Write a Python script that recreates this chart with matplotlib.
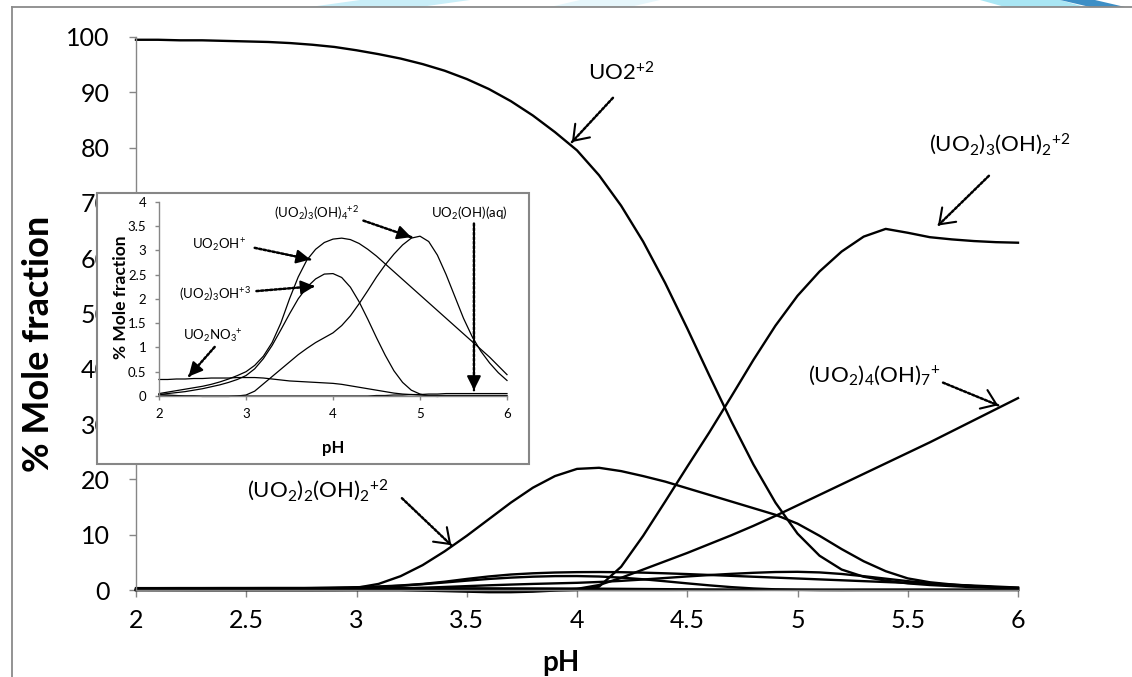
# ## ------- ## #
# ## Imports ## #
# ## ------- ## #

import matplotlib
matplotlib.use("Agg")
import matplotlib.pyplot as plt
from matplotlib.patches import Rectangle, Polygon
from matplotlib.lines import Line2D

plt.rcParams["font.family"] = ["Lato", "DejaVu Sans"]
plt.rcParams["mathtext.fontset"] = "custom"
plt.rcParams["mathtext.rm"] = "Lato"
plt.rcParams["mathtext.it"] = "Lato:italic"
plt.rcParams["mathtext.bf"] = "Lato:bold"
plt.rcParams["mathtext.default"] = "regular"

# ## ---- ## #
# ## Data ## #
# ## ---- ## #

ph = [2.0, 2.1, 2.2, 2.3, 2.4, 2.5, 2.6, 2.7, 2.8, 2.9,
      3.0, 3.1, 3.2, 3.3, 3.4, 3.5, 3.6, 3.7, 3.8, 3.9,
      4.0, 4.1, 4.2, 4.3, 4.4, 4.5, 4.6, 4.7, 4.8, 4.9,
      5.0, 5.1, 5.2, 5.3, 5.4, 5.5, 5.6, 5.7, 5.8, 5.9, 6.0]

# major species (% mole fraction)
uo2 = [99.5, 99.5, 99.4, 99.4, 99.3, 99.2, 99.1, 98.9, 98.6, 98.2,
       97.6, 96.9, 96.1, 95.1, 93.9, 92.4, 90.6, 88.4, 85.8, 82.8,
       79.5, 75.0, 69.5, 63.0, 55.5, 47.3, 38.8, 30.5, 22.7, 15.8,
       10.2, 6.2, 3.7, 2.4, 1.7, 1.2, 0.9, 0.7, 0.5, 0.4, 0.3]
uo2_3_oh2 = [0.0, 0.0, 0.0, 0.0, 0.0, 0.0, 0.0, 0.0, 0.0, 0.0,
             0.0, 0.0, 0.0, -0.1, -0.2, -0.3, -0.4, -0.4, -0.3, -0.1,
             0.0, 0.6, 4.2, 9.8, 16.0, 22.3, 28.5, 35.0, 41.6, 47.8,
             53.2, 57.6, 61.2, 63.9, 65.3, 64.6, 63.8, 63.4, 63.1, 62.9, 62.8]
uo2_2_oh2 = [0.1, 0.1, 0.1, 0.1, 0.1, 0.1, 0.1, 0.1, 0.1, 0.2,
             0.4, 1.1, 2.5, 4.5, 7.0, 9.8, 12.8, 15.8, 18.5, 20.6,
             21.9, 22.1, 21.5, 20.6, 19.6, 18.4, 17.2, 16.0, 14.8, 13.6,
             12.0, 9.8, 7.4, 5.2, 3.4, 2.1, 1.4, 1.0, 0.7, 0.5, 0.4]
uo2_4_oh7 = [0.0, 0.0, 0.0, 0.0, 0.0, 0.0, 0.0, 0.0, 0.0, 0.0,
             0.0, 0.0, 0.0, 0.0, 0.0, 0.0, 0.0, 0.0, 0.0, 0.0,
             0.2, 0.9, 2.2, 3.7, 5.2, 6.7, 8.3, 9.9, 11.6, 13.4,
             15.3, 17.2, 19.1, 21.0, 22.9, 24.8, 26.7, 28.7, 30.7, 32.7, 34.7]

# minor species (shown again in the inset)
uo2no3 = [0.34, 0.34, 0.35, 0.35, 0.36, 0.36, 0.37, 0.37, 0.37, 0.38,
          0.38, 0.38, 0.37, 0.35, 0.33, 0.31, 0.30, 0.29, 0.28, 0.27,
          0.26, 0.24, 0.21, 0.18, 0.15, 0.12, 0.09, 0.06, 0.04, 0.03,
          0.02, 0.01, 0.01, 0.01, 0.01, 0.01, 0.01, 0.01, 0.01, 0.01, 0.01]
uo2oh = [0.05, 0.08, 0.11, 0.14, 0.17, 0.20, 0.24, 0.29, 0.35, 0.42,
         0.50, 0.63, 0.82, 1.10, 1.50, 2.00, 2.45, 2.80, 3.02, 3.16,
         3.23, 3.25, 3.22, 3.14, 3.02, 2.88, 2.72, 2.56, 2.40, 2.24,
         2.08, 1.92, 1.76, 1.60, 1.44, 1.28, 1.12, 0.96, 0.80, 0.62, 0.44]
uo2_3_oh = [0.03, 0.05, 0.07, 0.09, 0.12, 0.15, 0.19, 0.23, 0.28, 0.34,
            0.42, 0.56, 0.77, 1.04, 1.36, 1.69, 2.00, 2.24, 2.41, 2.51,
            2.52, 2.44, 2.24, 1.94, 1.58, 1.20, 0.84, 0.52, 0.28, 0.12,
            0.04, 0.00, -0.01, 0.00, 0.00, 0.00, 0.00, 0.00, 0.00, 0.00, 0.00]
uo2_3_oh4 = [0.03, 0.02, 0.01, 0.00, 0.00, -0.01, -0.01, -0.01, -0.01, 0.00,
             0.02, 0.10, 0.25, 0.40, 0.55, 0.70, 0.85, 0.98, 1.10, 1.20,
             1.30, 1.45, 1.65, 1.90, 2.17, 2.45, 2.70, 2.92, 3.11, 3.25,
             3.29, 3.18, 2.90, 2.50, 2.05, 1.60, 1.22, 0.92, 0.68, 0.48, 0.32]
uo2oh_aq = [0.0, 0.0, 0.0, 0.0, 0.0, 0.0, 0.0, 0.0, 0.0, 0.0,
            0.0, 0.0, 0.0, 0.0, 0.0, 0.0, 0.0, 0.0, 0.0, 0.0,
            0.0, 0.0, 0.0, 0.0, 0.0, 0.01, 0.01, 0.02, 0.02, 0.03,
            0.03, 0.04, 0.04, 0.05, 0.05, 0.05, 0.05, 0.05, 0.05, 0.05, 0.05]

main_series = [uo2, uo2_3_oh2, uo2_2_oh2, uo2_4_oh7,
               uo2no3, uo2oh, uo2_3_oh, uo2_3_oh4, uo2oh_aq]
inset_series = [uo2no3, uo2oh, uo2_3_oh, uo2_3_oh4, uo2oh_aq]

main_xticks = [2, 2.5, 3, 3.5, 4, 4.5, 5, 5.5, 6]
main_xticklabels = ["2", "2.5", "3", "3.5", "4", "4.5", "5", "5.5", "6"]
main_yticks = [0, 10, 20, 30, 40, 50, 60, 70, 80, 90, 100]
inset_xticks = [2, 3, 4, 5, 6]
inset_yticks = [0, 0.5, 1, 1.5, 2, 2.5, 3, 3.5, 4]
inset_yticklabels = ["0", "0.5", "1", "1.5", "2", "2.5", "3", "3.5", "4"]

# labels: (text, label position, arrow start, arrow tip)
main_notes = [
    (r"UO2$^{+2}$", (4.2, 93.5), (4.163, 89.0), (3.977, 81.0)),
    (r"(UO$_2$)$_3$(OH)$_2{}^{+2}$", (5.918, 80.7), (5.868, 74.9), (5.637, 65.9)),
    (r"(UO$_2$)$_4$(OH)$_7{}^{+}$", (5.347, 38.8), (5.66, 37.5), (5.91, 33.4)),
    (r"(UO$_2$)$_2$(OH)$_2{}^{+2}$", (2.825, 18.0), (3.206, 16.6), (3.43, 8.1)),
]
inset_notes = [
    (r"UO$_2$OH$^{+}$", (2.69, 3.11), (3.10, 3.05), (3.74, 2.81)),
    (r"(UO$_2$)$_3$OH$^{+3}$", (2.64, 2.11), (3.12, 2.16), (3.79, 2.26)),
    (r"UO$_2$NO$_3{}^{+}$", (2.62, 1.22), (2.64, 1.01), (2.34, 0.40)),
    (r"(UO$_2$)$_3$(OH)$_4{}^{+2}$", (3.81, 3.76), (4.35, 3.61), (4.90, 3.27)),
    (r"UO$_2$(OH)(aq)", (5.56, 3.76), (5.62, 3.55), (5.62, 0.12)),
]

W, H = 1132, 677
GREY = "#868686"


def dotted_arrow(ax, start, tip, head, lw, scale):
    # dotted shaft
    ax.annotate("", xy=tip, xytext=start, annotation_clip=False,
                arrowprops=dict(arrowstyle="-", linestyle=(0, (1, 0.8)), lw=lw,
                                color="black", shrinkA=0, shrinkB=0))
    # solid head on a very short stub at the tip
    near = (tip[0] + 0.04 * (start[0] - tip[0]), tip[1] + 0.04 * (start[1] - tip[1]))
    ax.annotate("", xy=tip, xytext=near, annotation_clip=False,
                arrowprops=dict(arrowstyle=head, lw=1.5, color="black", fc="black",
                                shrinkA=0, shrinkB=0, mutation_scale=scale))


fig = plt.figure(figsize=(W / 100, H / 100), dpi=100)

# ## --------------- ## #
# ## Page decoration ## #
# ## --------------- ## #

swooshes = [((360, 0), (470, 0), (420, 7), (310, 7), "#c9eef8"),
            ((580, 0), (660, 0), (630, 7), (550, 7), "#e6f6fb"),
            ((980, 0), (1060, 0), (1085, 7), (1005, 7), "#a9e6f4"),
            ((1060, 0), (1095, 0), (1125, 7), (1090, 7), "#3d8fc6")]
for p1, p2, p3, p4, col in swooshes:
    pts = [(x / W, 1 - y / H) for x, y in (p1, p2, p3, p4)]
    fig.add_artist(Polygon(pts, closed=True, transform=fig.transFigure,
                           facecolor=col, edgecolor="none", zorder=0))
fig.add_artist(Line2D([12 / W, 1], [1 - 7 / H, 1 - 7 / H], transform=fig.transFigure,
                      color="#8a8a8a", lw=1.3))
fig.add_artist(Line2D([12 / W, 12 / W], [0, 1 - 7 / H], transform=fig.transFigure,
                      color="#8a8a8a", lw=1.3))

# ## ---------- ## #
# ## Main chart ## #
# ## ---------- ## #

ax = fig.add_axes([136 / W, (H - 590) / H, 882 / W, 553 / H], zorder=1)
ax.patch.set_alpha(0)
for vals in main_series:
    ax.plot(ph, vals, color="black", lw=1.7, clip_on=False, solid_joinstyle="round")

ax.set_xlim(2, 6)
ax.set_ylim(0, 100)
ax.set_xticks(main_xticks)
ax.set_xticklabels(main_xticklabels)
ax.set_yticks(main_yticks)
for side in ["top", "right"]:
    ax.spines[side].set_visible(False)
for side in ["left", "bottom"]:
    ax.spines[side].set_color(GREY)
    ax.spines[side].set_linewidth(1)
ax.tick_params(axis="both", colors=GREY, labelcolor="black", length=5, width=1,
               labelsize=18)
ax.tick_params(axis="y", pad=14)
ax.tick_params(axis="x", pad=9)
ax.set_ylabel("% Mole fraction", fontsize=26, fontweight="bold")
ax.yaxis.set_label_coords(-0.092, 0.445)
ax.set_xlabel("pH", fontsize=20, fontweight="bold")
ax.xaxis.set_label_coords(0.482, -0.108)

for text, pos, start, tip in main_notes:
    ax.text(pos[0], pos[1], text, fontsize=16, ha="center", va="center")
    dotted_arrow(ax, start, tip, "->,head_length=0.5,head_width=0.36", 1.8, 20)

# ## ----- ## #
# ## Inset ## #
# ## ----- ## #

frame = Rectangle((97 / W, (H - 464) / H), 432 / W, 271 / H, transform=fig.transFigure,
                  facecolor="white", edgecolor=GREY, lw=1.5, zorder=2)
fig.add_artist(frame)

axin = fig.add_axes([159 / W, (H - 396) / H, 348 / W, 194.3 / H], zorder=3)
axin.patch.set_alpha(0)
for vals in inset_series:
    axin.plot(ph, vals, color="black", lw=0.9, clip_on=False)

axin.set_xlim(2, 6)
axin.set_ylim(0, 4)
axin.set_xticks(inset_xticks)
axin.set_yticks(inset_yticks)
axin.set_yticklabels(inset_yticklabels)
for side in ["top", "right"]:
    axin.spines[side].set_visible(False)
for side in ["left", "bottom"]:
    axin.spines[side].set_color(GREY)
    axin.spines[side].set_linewidth(1)
axin.tick_params(axis="both", colors=GREY, labelcolor="black", length=3, width=1,
                 labelsize=9.5, pad=6)
axin.set_ylabel("% Mole fraction", fontsize=12.5, fontweight="bold")
axin.yaxis.set_label_coords(-0.085, 0.51)
axin.set_xlabel("pH", fontsize=12, fontweight="bold")
axin.xaxis.set_label_coords(0.5, -0.225)

for text, pos, start, tip in inset_notes:
    axin.text(pos[0], pos[1], text, fontsize=9.5, ha="center", va="center")
    dotted_arrow(axin, start, tip, "-|>,head_length=0.6,head_width=0.3", 1.8, 14)

fig.savefig("out.png", dpi=100)
